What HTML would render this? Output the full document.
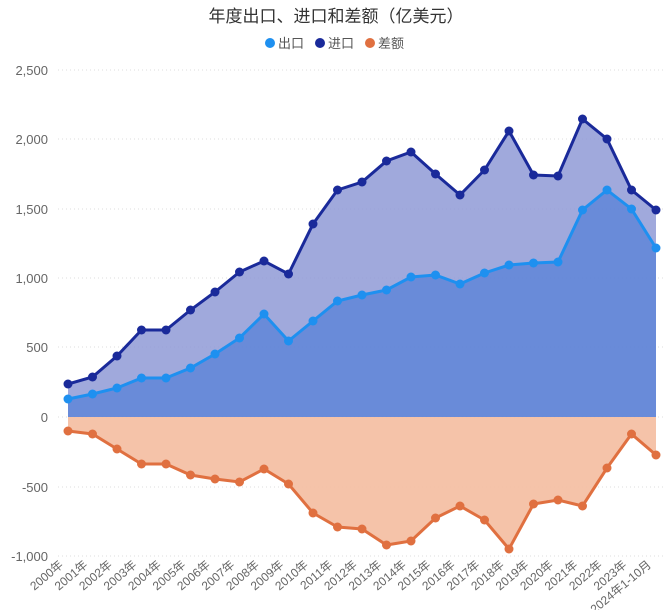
<!DOCTYPE html>
<html><head><meta charset="utf-8"><style>
body{margin:0;background:#fff;}
svg text{font-family:"Liberation Sans","Noto Sans CJK SC",sans-serif;}
</style></head><body>
<svg id="s" width="672" height="610" xmlns="http://www.w3.org/2000/svg">
<text x="336" y="22" text-anchor="middle" font-size="17" fill="#333">年度出口、进口和差额（亿美元）</text>
<circle cx="270" cy="43" r="5" fill="#1e90f0"/><text x="278" y="48" font-size="13" fill="#555">出口</text>
<circle cx="320" cy="43" r="5" fill="#1a2a9a"/><text x="328" y="48" font-size="13" fill="#555">进口</text>
<circle cx="370" cy="43" r="5" fill="#e07040"/><text x="378" y="48" font-size="13" fill="#555">差额</text>
<g id="g"></g>
</svg>
<script>
var imp=[384,377,356,330,330,310,292,272,261,274,224,190,182,161,152,174,195,170,131,175,176,119,139,190,210];
var exp=[399,394,388,378,378,368,354,338,314,341,321,301,295,290,277,275,284,273,265,263,262,210,190,209,248];
var dif=[431,434,449,464,464,475,479,482,469,484,513,527,529,545,541,518,506,520,549,504,500,506,468,434,455];
var X=function(i){return 68+i*24.5;};
var h='';
var ticks=[[70,'2,500'],[139,'2,000'],[209,'1,500'],[278,'1,000'],[347,'500'],[417,'0'],[487,'-500'],[556,'-1,000']];
ticks.forEach(function(t){h+='<line x1="58" x2="666" y1="'+t[0]+'" y2="'+t[0]+'" stroke="#ddd" stroke-dasharray="1,3"/>';
h+='<text x="48" y="'+(t[0]+5)+'" text-anchor="end" font-size="13" fill="#666">'+t[1]+'</text>';});
function pts(a){return a.map(function(y,i){return X(i)+','+y;}).join(' ');}
function area(a,c,o){return '<polygon points="'+X(0)+',417 '+pts(a)+' '+X(24)+',417" fill="'+c+'" fill-opacity="'+o+'"/>';}
h+=area(imp,'#8f9ad6',0.85);
h+=area(exp,'#5f86d8',0.85);
h+=area(dif,'#f4bda0',0.9);
function line(a,c){var s='<polyline points="'+pts(a)+'" fill="none" stroke="'+c+'" stroke-width="3"/>';
a.forEach(function(y,i){s+='<circle cx="'+X(i)+'" cy="'+y+'" r="4.5" fill="'+c+'"/>';});return s;}
h+=line(imp,'#1a2a9a');h+=line(exp,'#1e90f0');h+=line(dif,'#e07040');
for(var i=0;i<25;i++){var lab=(2000+i)+'年'+(i==24?'1-10月':'');
h+='<text transform="translate('+(X(i)-4)+',566) rotate(-40)" text-anchor="end" font-size="12" fill="#666">'+lab+'</text>';}
document.getElementById('g').innerHTML=h;
</script>
</body></html>
